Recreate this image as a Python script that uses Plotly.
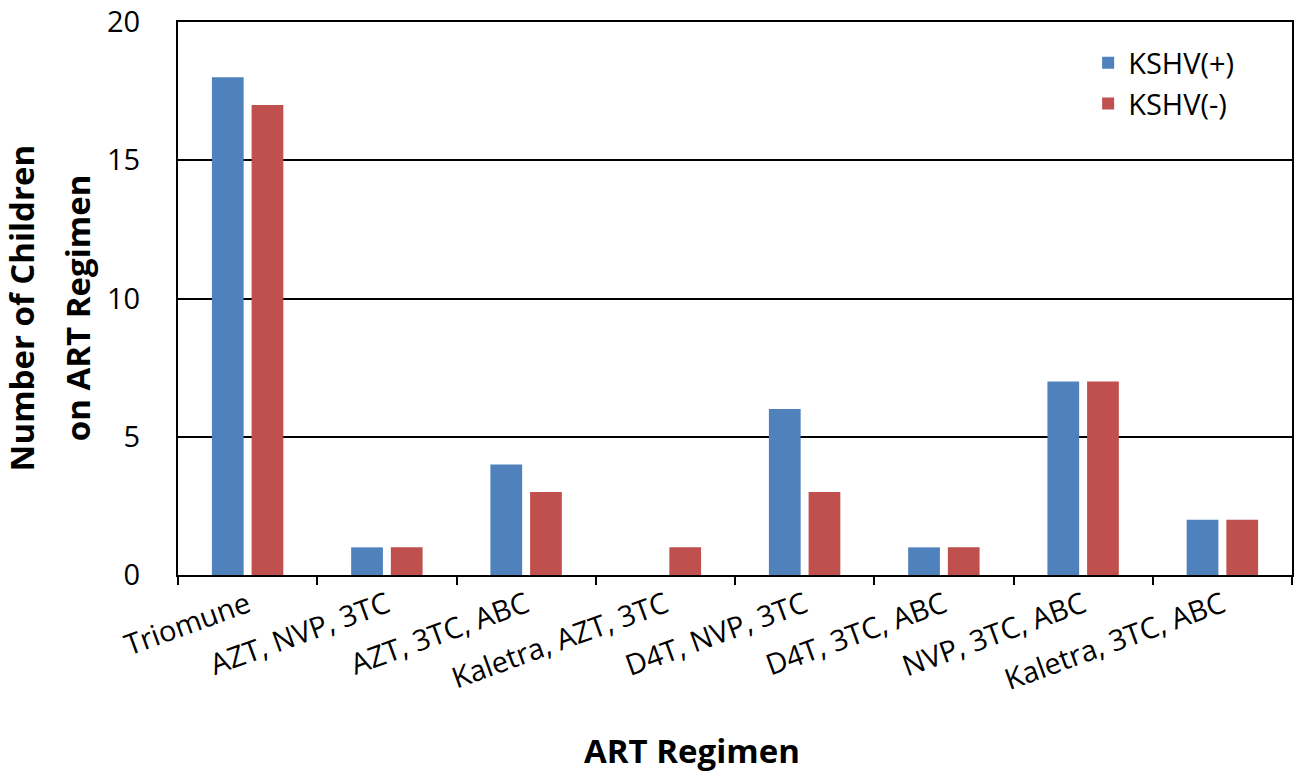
import plotly.graph_objects as go

categories = ["Triomune", "AZT, NVP, 3TC", "AZT, 3TC, ABC", "Kaletra, AZT, 3TC",
              "D4T, NVP, 3TC", "D4T, 3TC, ABC", "NVP, 3TC, ABC", "Kaletra, 3TC, ABC"]
kshv_pos = [18, 1, 4, 0, 6, 1, 7, 2]
kshv_neg = [17, 1, 3, 1, 3, 1, 7, 2]
y_ticks = [0, 5, 10, 15, 20]

FONT = "Open Sans"

fig = go.Figure()
fig.add_trace(go.Bar(x=categories, y=kshv_pos, name="KSHV(+)",
                     marker=dict(color="#4F81BD", line=dict(width=0))))
fig.add_trace(go.Bar(x=categories, y=kshv_neg, name="KSHV(-)",
                     marker=dict(color="#C0504D", line=dict(width=0))))

fig.update_layout(
    width=1298, height=773,
    margin=dict(l=178, r=6, t=22, b=198),
    paper_bgcolor="white", plot_bgcolor="white",
    barmode="group", bargap=0.43, bargroupgap=0.2,
    font=dict(family=FONT, color="black", size=28),
    legend=dict(x=0.817, y=0.972, xanchor="left", yanchor="top",
                font=dict(size=29), bgcolor="rgba(0,0,0,0)",
                itemwidth=30, tracegroupgap=14),
    showlegend=True,
    annotations=[
        dict(text="<b>ART Regimen</b>", xref="paper", yref="paper",
             x=0.4614, y=-0.318, xanchor="center", yanchor="middle",
             showarrow=False, font=dict(size=33)),
        dict(text="<b>Number of Children</b>", xref="paper", yref="paper",
             x=-0.1405, y=0.483, xanchor="center", yanchor="middle", textangle=-90,
             showarrow=False, font=dict(size=33)),
        dict(text="<b>on ART Regimen</b>", xref="paper", yref="paper",
             x=-0.0895, y=0.483, xanchor="center", yanchor="middle", textangle=-90,
             showarrow=False, font=dict(size=33)),
    ],
)
fig.update_xaxes(
    automargin=False,
    tickangle=-20, tickson="boundaries", ticks="outside", ticklen=8, tickwidth=2,
    tickcolor="black", showline=True, linecolor="black", linewidth=2, mirror=True,
    tickfont=dict(size=29),
)
fig.update_yaxes(
    automargin=False, ticklabeloverflow="allow",
    range=[0, 20], tickvals=y_ticks, ticks="", ticklabelstandoff=30,
    showline=True, linecolor="black", linewidth=2, mirror=True,
    showgrid=True, gridcolor="black", gridwidth=1.5, zeroline=False,
    tickfont=dict(size=29),
)

fig.write_html("out.html", config={"displayModeBar": False},
               post_script="document.body.style.margin='0px';")
